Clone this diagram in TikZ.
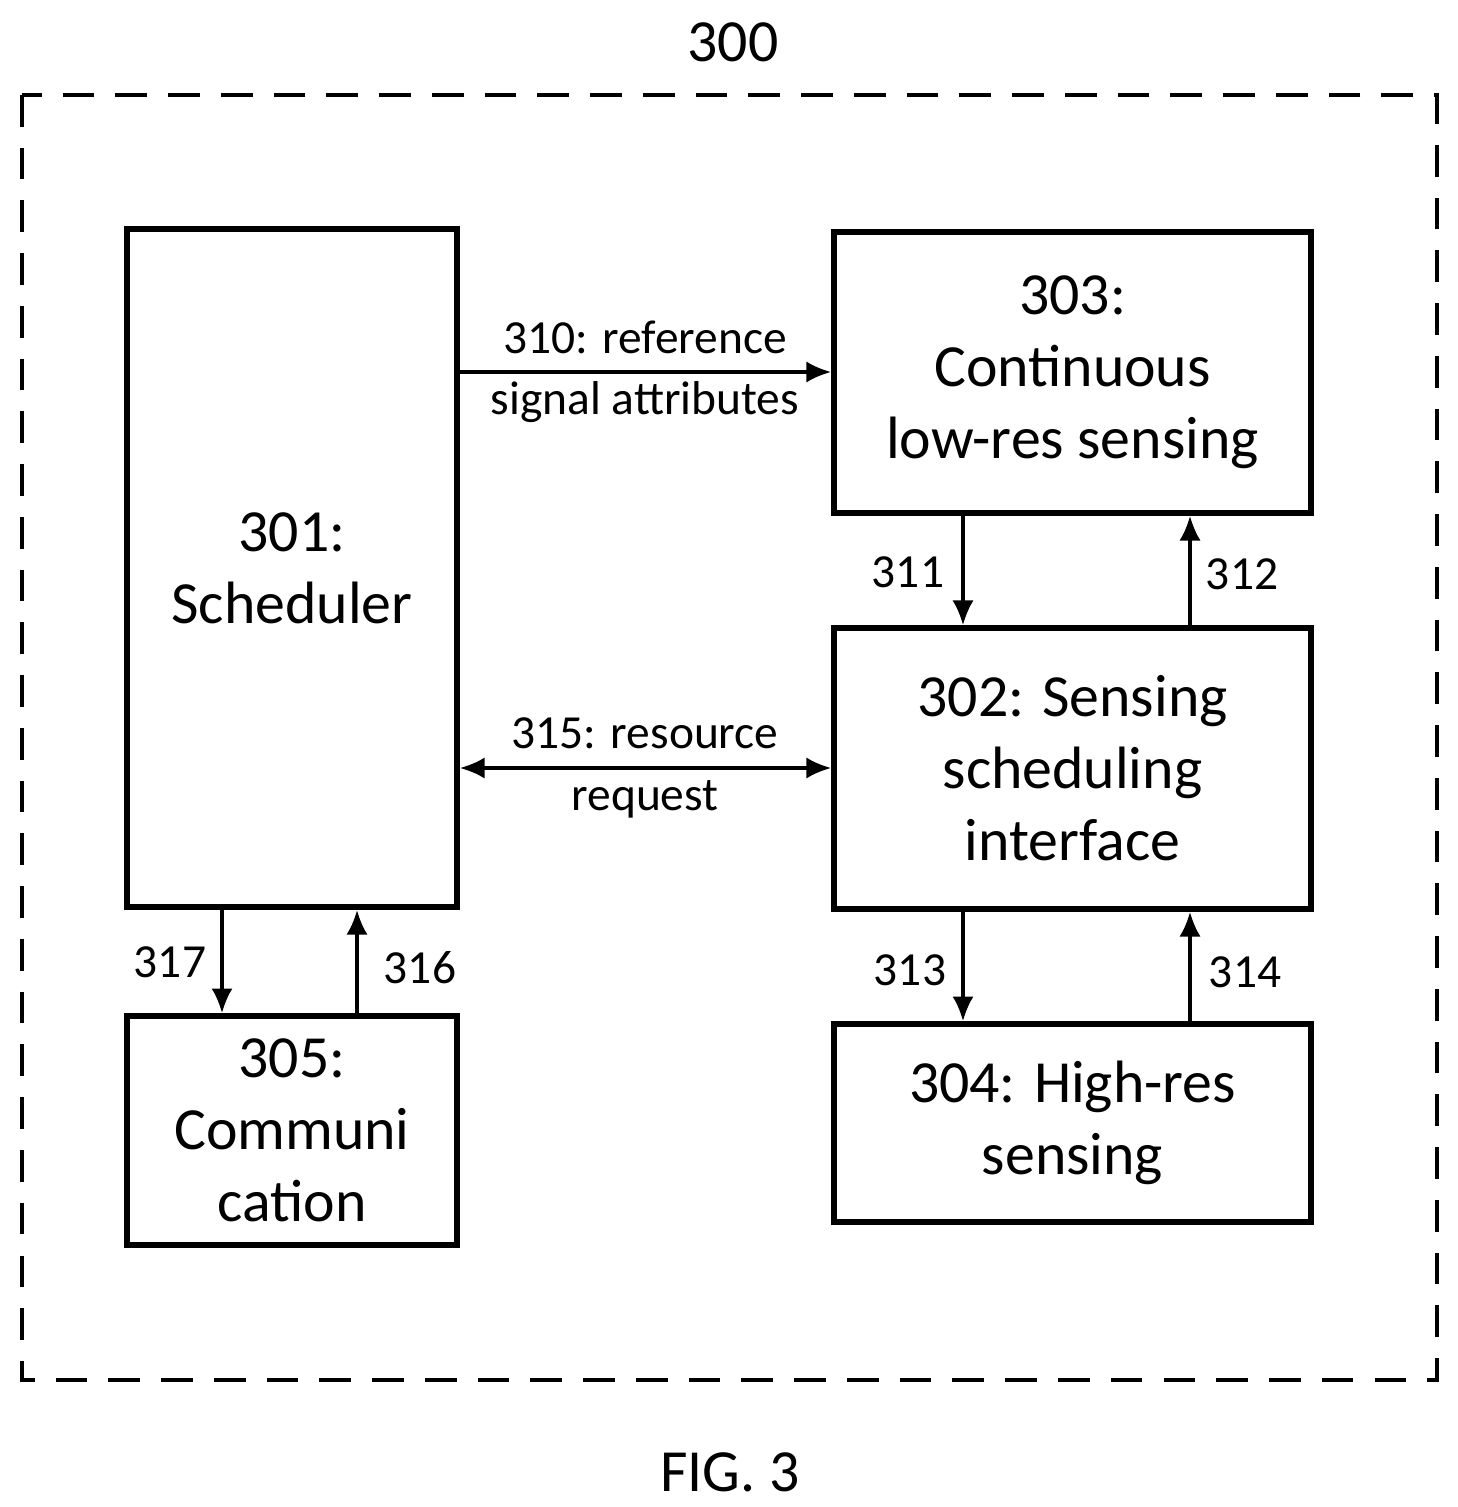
\documentclass[tikz,border=0pt]{standalone}
\usepackage{fontspec}
\setmainfont{Carlito}
\usetikzlibrary{arrows.meta}
\begin{document}
\begin{tikzpicture}[x=0.01cm,y=-0.01cm,
  box/.style={draw,line width=1.6pt,inner sep=0,align=center,font=\fontsize{17}{20.5}\selectfont},
  lbl/.style={font=\fontsize{13.5}{17.5}\selectfont,align=center},
  arr/.style={line width=0.9pt,-{Latex[length=7pt,width=6pt]}}]
\useasboundingbox (0,0) rectangle (1457,1507);
\draw[dashed,line width=1.2pt,dash pattern=on 9pt off 6pt] (22,95) rectangle (1437,1380);
\node[font=\fontsize{17}{20}\selectfont] (t300) at (733,42) {300};
\node[font=\fontsize{17}{20}\selectfont] (fig) at (730,1472) {FIG. 3};
\node[box,minimum width=3.30cm,minimum height=6.78cm] (n301) at (292,568) {301:\\Scheduler};
\node[box,minimum width=4.77cm,minimum height=2.81cm] (n303) at (1072.5,372.5) {303:\\Continuous\\low-res sensing};
\node[box,minimum width=4.77cm,minimum height=2.81cm] (n302) at (1072.5,768.5) {302: Sensing\\scheduling\\interface};
\node[box,minimum width=4.77cm,minimum height=1.98cm] (n304) at (1072.5,1123) {304: High-res\\sensing};
\node[box,minimum width=3.30cm,minimum height=2.29cm] (n305) at (292,1130.5) {305:\\Communi\\cation};
\draw[arr] (n301.east |- 0,372) -- (n303.west |- 0,372);
\node[lbl] (l310) at (645,372) {310: reference\\signal attributes};
\draw[arr,{Latex[length=7pt,width=6pt]}-{Latex[length=7pt,width=6pt]}] (n301.east |- 0,768) -- (n302.west |- 0,768);
\node[lbl] (l315) at (645,768) {315: resource\\request};
\draw[arr] (n303.south -| 963,0) -- (n302.north -| 963,0);
\node[lbl] (l311) at (908,572) {311};
\draw[arr] (n302.north -| 1190,0) -- (n303.south -| 1190,0);
\node[lbl] (l312) at (1242,574) {312};
\draw[arr] (n302.south -| 963,0) -- (n304.north -| 963,0);
\node[lbl] (l313) at (910,970) {313};
\draw[arr] (n304.north -| 1190,0) -- (n302.south -| 1190,0);
\node[lbl] (l314) at (1245,972) {314};
\draw[arr] (n301.south -| 222,0) -- (n305.north -| 222,0);
\node[lbl] (l317) at (170,962) {317};
\draw[arr] (n305.north -| 357,0) -- (n301.south -| 357,0);
\node[lbl] (l316) at (420,968) {316};
\end{tikzpicture}
\end{document}
